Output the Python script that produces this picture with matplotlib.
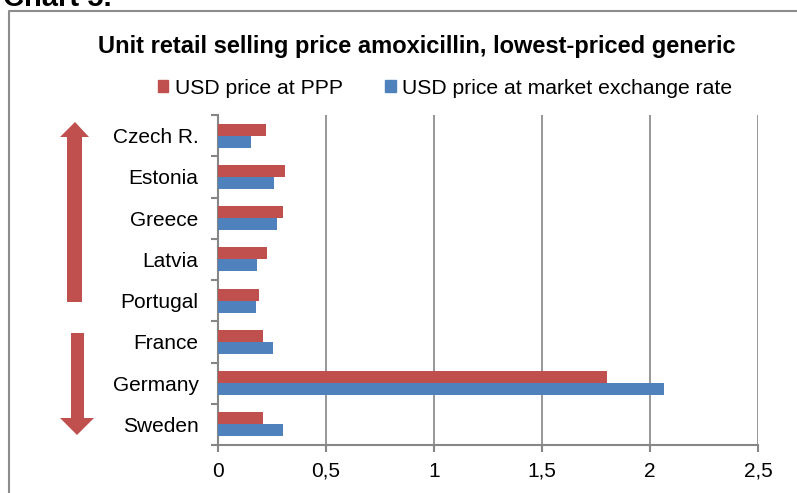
import matplotlib
matplotlib.use("Agg")
import matplotlib.pyplot as plt
import numpy as np
from matplotlib.patches import Patch, Polygon
from matplotlib.ticker import FuncFormatter

plt.rcParams['font.family'] = ['Liberation Sans', 'DejaVu Sans']

countries = ["Czech R.", "Estonia", "Greece", "Latvia", "Portugal", "France", "Germany", "Sweden"]
ppp = [0.22, 0.31, 0.30, 0.225, 0.19, 0.21, 1.80, 0.21]
market = [0.155, 0.26, 0.275, 0.18, 0.175, 0.255, 2.065, 0.30]
xticks = [0, 0.5, 1, 1.5, 2, 2.5]
title = "Unit retail selling price amoxicillin, lowest-priced generic"
labels = ["USD price at PPP", "USD price at market exchange rate"]

RED = "#C0504D"
BLUE = "#4F81BD"
GRID = "#868686"

W, H = 797, 493
fig = plt.figure(figsize=(W / 100, H / 100), dpi=100)

# overlay for border, arrows, header
ov = fig.add_axes([0, 0, 1, 1])
ov.set_xlim(0, W)
ov.set_ylim(H, 0)
ov.axis("off")
ov.plot([9, 9, W], [H, 11, 11], color="#8C8C8C", lw=1.5, solid_capstyle="butt")
ov.text(3, 6, "Chart 5.", fontsize=21, fontweight="bold", va="baseline", ha="left")

# up arrow
up = [(67, 302), (82, 302), (82, 137), (89, 137), (75, 122), (60, 137), (67, 137)]
ov.add_patch(Polygon(up, closed=True, color=RED, lw=0))
# down arrow
dn = [(71, 333), (84, 333), (84, 418), (94, 418), (77, 435), (60, 418), (71, 418)]
ov.add_patch(Polygon(dn, closed=True, color=RED, lw=0))

ov.text(417, 47, title, fontsize=17, fontweight="bold", ha="center", va="center")

ax = fig.add_axes([218 / W, 1 - 445 / H, (758 - 218) / W, (445 - 115) / H])
y = np.arange(len(countries))
bh = 0.29
ax.barh(y - bh / 2, ppp, height=bh, color=RED, zorder=3)
ax.barh(y + bh / 2, market, height=bh, color=BLUE, zorder=3)
ax.set_ylim(len(countries) - 0.5, -0.5)
ax.set_xlim(0, 2.5)
ax.set_xticks(xticks)
ax.xaxis.set_major_formatter(FuncFormatter(lambda v, p: ("%g" % v).replace(".", ",")))
ax.set_yticks(y)
ax.set_yticklabels(countries)
ax.set_yticks(np.arange(-0.5, len(countries), 1), minor=True)
ax.tick_params(axis="y", which="major", length=0, pad=14, labelsize=15)
ax.tick_params(axis="y", which="minor", length=5, width=1.5, color=GRID)
ax.tick_params(axis="x", length=5, width=1.5, color=GRID, labelsize=15, pad=7)
ax.grid(axis="x", color=GRID, lw=1.2, zorder=0)
for s in ["top", "right"]:
    ax.spines[s].set_visible(False)
for s in ["left", "bottom"]:
    ax.spines[s].set_color(GRID)
    ax.spines[s].set_linewidth(1.5)

handles = [Patch(color=RED), Patch(color=BLUE)]
fig.legend(handles, labels, loc="center", bbox_to_anchor=(445 / W, 1 - 88 / H), ncol=2,
           frameon=False, fontsize=15.2, handlelength=0.5, handleheight=0.5,
           handletextpad=0.3, columnspacing=2.0)

fig.savefig("out.png", dpi=100)
